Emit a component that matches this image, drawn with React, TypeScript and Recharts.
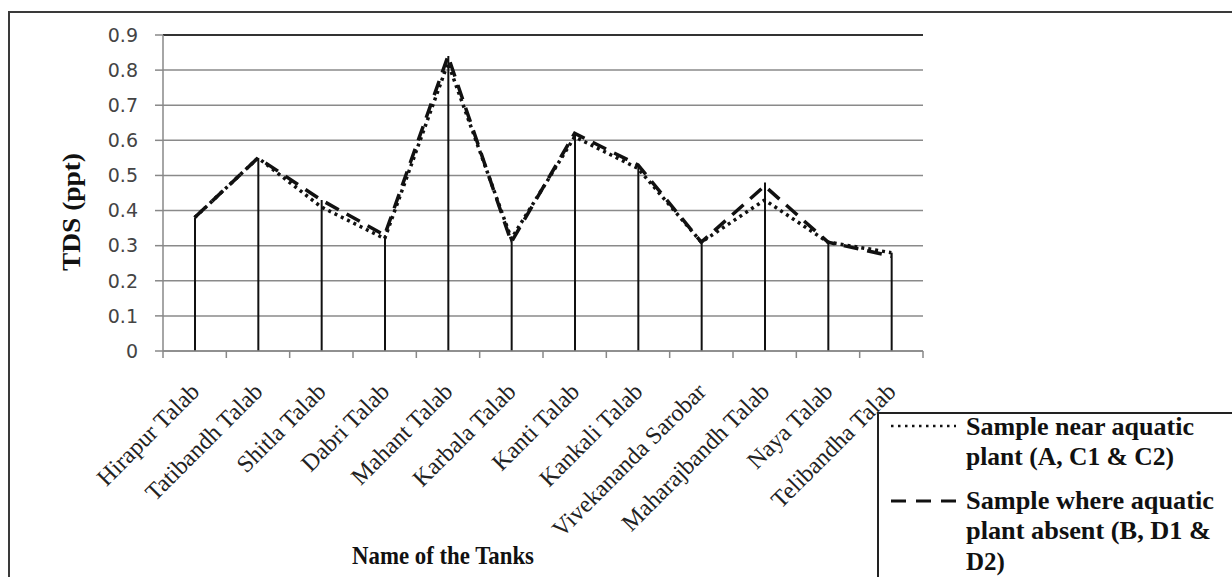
import React from 'react';
import { ComposedChart, Line, Bar, XAxis, YAxis, CartesianGrid, ReferenceLine, Label } from 'recharts';

const tanks = [
  'Hirapur Talab',
  'Tatibandh Talab',
  'Shitla Talab',
  'Dabri Talab',
  'Mahant Talab',
  'Karbala Talab',
  'Kanti Talab',
  'Kankali Talab',
  'Vivekananda Sarobar',
  'Maharajbandh Talab',
  'Naya Talab',
  'Telibandha Talab',
];
// TDS (ppt)
const nearPlant = [0.38, 0.55, 0.41, 0.32, 0.82, 0.32, 0.61, 0.52, 0.31, 0.43, 0.31, 0.28];
const plantAbsent = [0.38, 0.55, 0.43, 0.33, 0.84, 0.31, 0.62, 0.53, 0.31, 0.47, 0.31, 0.27];
const dropTop = [0.38, 0.55, 0.43, 0.33, 0.84, 0.32, 0.62, 0.53, 0.31, 0.48, 0.31, 0.28];
const yTicks = [0, 0.1, 0.2, 0.3, 0.4, 0.5, 0.6, 0.7, 0.8, 0.9];

const data = tanks.map((name, i) => ({
  name,
  near: nearPlant[i],
  absent: plantAbsent[i],
  drop: dropTop[i],
}));

const W = 1232;
const H = 577;
const margin = { top: 35, right: 309, bottom: 26, left: 103 };
const Y_AXIS_W = 60;
const plotW = W - margin.left - Y_AXIS_W - margin.right;
const half = plotW / tanks.length / 2;

const serif = '"Liberation Serif", "Times New Roman", serif';

const XTick = (props: any) => {
  const { x, y, payload, index } = props;
  const last = index === tanks.length - 1;
  const lx = x + 6;
  const ly = y + 42;
  return (
    <g>
      <line x1={x - half} x2={x - half} y1={y} y2={y + 7} stroke="#888" strokeWidth={1.5} />
      {last && <line x1={x + half} x2={x + half} y1={y} y2={y + 7} stroke="#888" strokeWidth={1.5} />}
      <text
        x={lx}
        y={ly}
        textAnchor="end"
        transform={`rotate(-45, ${lx}, ${ly})`}
        fontFamily={serif}
        fontSize={24}
        fill="#222"
      >
        {payload.value}
      </text>
    </g>
  );
};

const YTitle = () => {
  const cx = 80;
  const cy = 212;
  return (
    <text
      x={cx}
      y={cy}
      textAnchor="middle"
      transform={`rotate(-90, ${cx}, ${cy})`}
      fontFamily={serif}
      fontWeight="bold"
      fontSize={26}
      textLength={118}
      lengthAdjust="spacingAndGlyphs"
      fill="#111"
    >
      TDS (ppt)
    </text>
  );
};

const XTitle = (props: any) => {
  const { viewBox } = props;
  return (
    <text
      x={viewBox.x + 280}
      y={viewBox.y + viewBox.height + 13}
      textAnchor="middle"
      fontFamily={serif}
      fontWeight="bold"
      fontSize={26}
      textLength={182}
      lengthAdjust="spacingAndGlyphs"
      fill="#111"
    >
      Name of the Tanks
    </text>
  );
};

const LegendBox = () => (
  <div
    style={{
      position: 'absolute',
      left: 877,
      top: 412,
      width: 400,
      height: 200,
      borderLeft: '2px solid #222',
      borderTop: '2px solid #222',
      background: '#fff',
    }}
  >
    <svg width={360} height={170} style={{ display: 'block' }}>
      <line x1={12} x2={77} y1={12} y2={12} stroke="#111" strokeWidth={2.5} strokeDasharray="2.5 4.5" />
      <line x1={12} x2={77} y1={87} y2={87} stroke="#111" strokeWidth={3} strokeDasharray="15 10" />
      <g fontFamily={serif} fontWeight="bold" fontSize={25} fill="#111">
        <text x={87} y={21} textLength={228} lengthAdjust="spacingAndGlyphs">Sample near aquatic</text>
        <text x={87} y={51} textLength={208} lengthAdjust="spacingAndGlyphs">plant (A, C1 &amp; C2)</text>
        <text x={87} y={95} textLength={248} lengthAdjust="spacingAndGlyphs">Sample where  aquatic</text>
        <text x={87} y={125} textLength={245} lengthAdjust="spacingAndGlyphs">plant absent (B, D1 &amp;</text>
        <text x={87} y={156}>D2)</text>
      </g>
    </svg>
  </div>
);

export default function App() {
  return (
    <div style={{ position: 'fixed', left: 0, top: 0, width: W, height: H, overflow: 'hidden', background: '#fff' }}>
      <div
        style={{
          position: 'absolute',
          left: 8,
          top: 11,
          width: 1300,
          height: 700,
          border: '2px solid #3a3a3a',
        }}
      />
      <div style={{ position: 'absolute', left: 0, top: 0 }}>
        <ComposedChart width={W} height={H} data={data} margin={margin}>
          <CartesianGrid horizontal vertical={false} stroke="#8a8a8a" strokeWidth={1.5} />
          <XAxis
            dataKey="name"
            height={200}
            interval={0}
            tickLine={false}
            tickSize={0}
            tickMargin={0}
            axisLine={{ stroke: '#888', strokeWidth: 1.5 }}
            tick={<XTick />}
          >
            <Label content={<XTitle />} />
          </XAxis>
          <YAxis
            width={Y_AXIS_W}
            domain={[0, 0.9]}
            ticks={yTicks}
            interval={0}
            tickSize={8}
            tickMargin={17}
            tickLine={{ stroke: '#888', strokeWidth: 1.5 }}
            axisLine={{ stroke: '#888', strokeWidth: 1.5 }}
            tick={{ fontFamily: '"DejaVu Sans", Verdana, sans-serif', fontSize: 19, fill: '#444' }}
          >
            <Label content={<YTitle />} />
          </YAxis>
          <YAxis
            yAxisId="frame"
            orientation="right"
            width={0}
            domain={[0, 0.9]}
            tick={false}
            tickLine={false}
            axisLine={{ stroke: '#333', strokeWidth: 2 }}
          />
          <ReferenceLine y={0.9} stroke="#333" strokeWidth={2} />
          <Bar dataKey="drop" barSize={2} fill="#111" isAnimationActive={false} />
          <Line
            type="linear"
            dataKey="near"
            stroke="#111"
            strokeWidth={3.5}
            strokeDasharray="3 4"
            dot={false}
            activeDot={false}
            isAnimationActive={false}
          />
          <Line
            type="linear"
            dataKey="absent"
            stroke="#111"
            strokeWidth={3.5}
            strokeDasharray="15 9"
            dot={false}
            activeDot={false}
            isAnimationActive={false}
          />
        </ComposedChart>
      </div>
      <LegendBox />
    </div>
  );
}
